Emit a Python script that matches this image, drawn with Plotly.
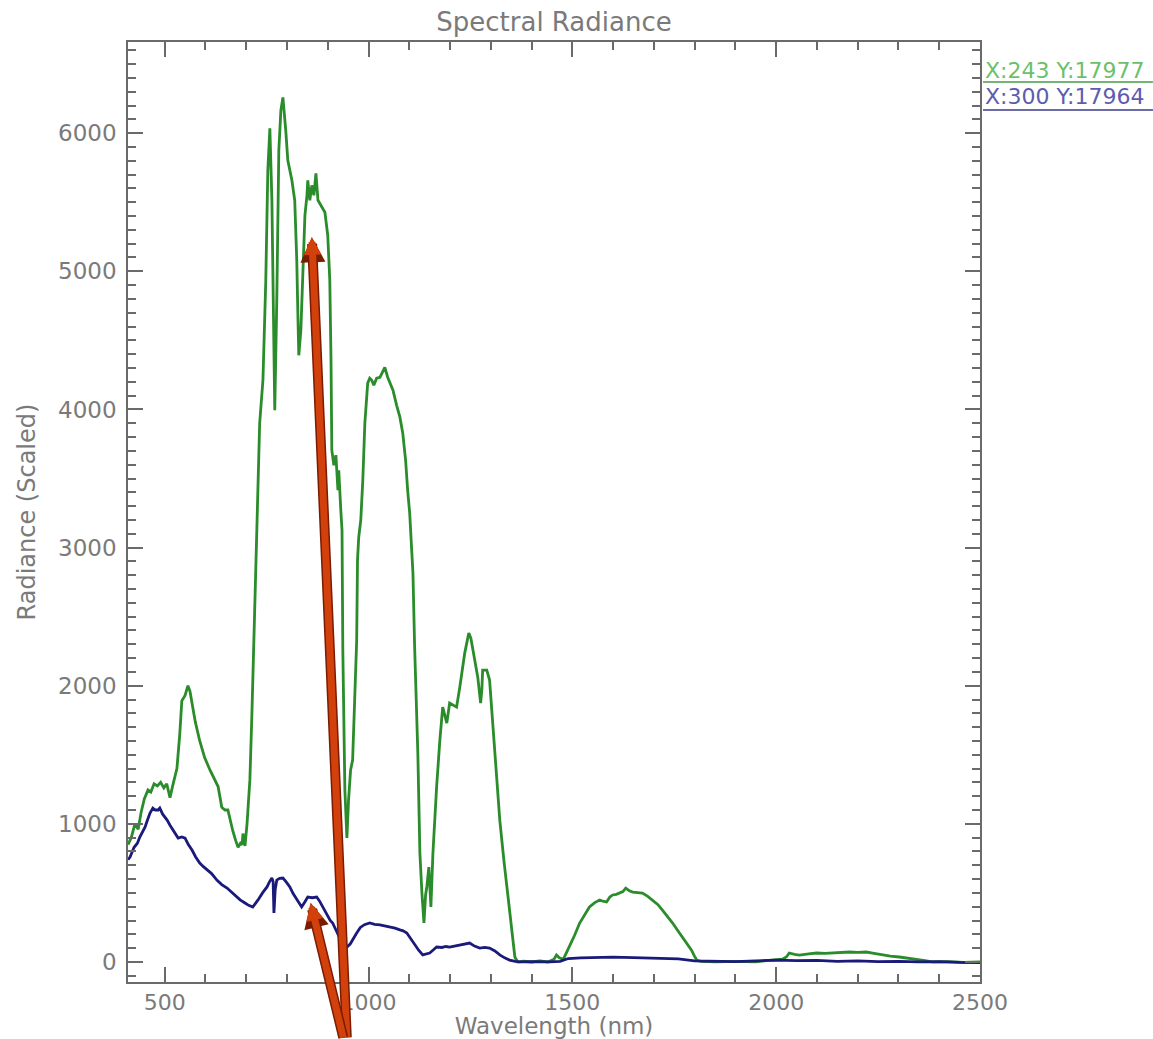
import plotly.graph_objects as go

# ---------------- data ----------------
green_wl = [410, 418, 427, 435, 442, 450, 459, 466, 474, 482, 490, 498, 505, 513, 520, 530, 537, 542, 550, 557,
            562, 567, 575, 586, 598, 611, 620, 631, 640, 648, 655, 662, 667, 674, 680, 686, 690, 692, 695, 697,
            702, 709, 714, 719, 726, 733, 741, 748, 753, 758, 763, 768, 770, 775, 780, 785, 790, 797, 802, 807,
            812, 819, 824, 827, 829, 834, 839, 844, 849, 851, 856, 861, 866, 871, 876, 883, 893, 900, 905, 908,
            910, 915, 920, 925, 927, 932, 935, 937, 942, 947, 951, 956, 961, 966, 971, 973, 976, 981, 986, 991,
            998, 1003, 1008, 1013, 1020, 1028, 1035, 1040, 1047, 1060, 1069, 1077, 1084, 1091, 1096, 1101, 1109, 1113, 1121, 1126,
            1131, 1136, 1140, 1143, 1148, 1153, 1158, 1162, 1167, 1175, 1180, 1182, 1187, 1192, 1199, 1206, 1216, 1224, 1231, 1236,
            1246, 1251, 1255, 1263, 1268, 1275, 1278, 1280, 1290, 1297, 1302, 1310, 1322, 1332, 1339, 1349, 1359, 1366, 1380, 1400,
            1420, 1440, 1455, 1461, 1468, 1478, 1493, 1505, 1518, 1530, 1542, 1555, 1567, 1575, 1584, 1592, 1599, 1608, 1616, 1624,
            1631, 1640, 1648, 1660, 1672, 1685, 1697, 1710, 1721, 1734, 1746, 1758, 1770, 1782, 1792, 1800, 1805, 1815, 1850, 1900,
            1950, 1976, 2000, 2015, 2025, 2032, 2045, 2057, 2080, 2099, 2120, 2138, 2160, 2180, 2200, 2221, 2240, 2261, 2280, 2302,
            2325, 2344, 2365, 2383, 2420, 2460, 2500]
green_rad = [850, 900, 1000, 960, 1080, 1180, 1245, 1230, 1290, 1275, 1300, 1260, 1290, 1190, 1280, 1400, 1650, 1890, 1930, 2000,
             1960, 1880, 1740, 1600, 1480, 1390, 1330, 1270, 1120, 1100, 1100, 1010, 950, 880, 830, 860, 850, 930, 860, 840,
             1000, 1320, 1800, 2330, 3200, 3900, 4211, 4935, 5731, 6035, 5514, 4428, 3994, 4790, 5876, 6165, 6259, 6020, 5803, 5731,
             5659, 5514, 5080, 4646, 4392, 4573, 5080, 5405, 5550, 5659, 5514, 5622, 5550, 5709, 5514, 5478, 5427, 5261, 4935, 4356,
             3705, 3596, 3669, 3415, 3560, 3271, 3126, 2258, 1245, 897, 1172, 1389, 1462, 1896, 2330, 2909, 3075, 3198, 3488, 3900,
             4190, 4226, 4211, 4175, 4226, 4233, 4269, 4305, 4233, 4139, 4030, 3944, 3828, 3632, 3415, 3249, 2815, 2294, 1512, 789,
             499, 282, 485, 543, 687, 398, 789, 1027, 1266, 1606, 1802, 1845, 1787, 1729, 1874, 1860, 1845, 1990, 2149, 2236,
             2381, 2345, 2279, 2149, 2062, 1874, 1968, 2113, 2113, 2041, 1824, 1512, 1027, 738, 543, 268, 36, 0, 5, 0,
             8, 0, 20, 50, 30, 20, 108, 190, 282, 345, 398, 430, 449, 440, 434, 470, 485, 490, 499, 510,
             535, 515, 506, 505, 499, 475, 449, 415, 376, 330, 282, 230, 181, 130, 87, 40, 14, 5, 0, 5,
             0, 10, 15, 20, 36, 65, 55, 50, 58, 65, 62, 65, 70, 72, 70, 72, 62, 50, 42, 36,
             28, 22, 10, 0, 3, -3, 0]

blue_wl = [410, 415, 425, 433, 439, 445, 452, 458, 464, 471, 477, 484, 488, 495, 506, 513, 520, 527, 533, 542,
           550, 558, 567, 576, 586, 595, 604, 615, 628, 640, 653, 662, 672, 685, 697, 706, 716, 722, 729, 740,
           751, 757, 763, 766, 768, 771, 775, 782, 790, 798, 807, 815, 824, 830, 836, 843, 851, 862, 873, 880,
           888, 894, 900, 906, 912, 920, 930, 940, 947, 955, 962, 971, 980, 990, 1003, 1015, 1028, 1040, 1052, 1065,
           1077, 1085, 1094, 1103, 1113, 1123, 1133, 1141, 1150, 1158, 1167, 1180, 1190, 1199, 1212, 1224, 1236, 1248, 1260, 1273,
           1285, 1297, 1310, 1322, 1334, 1346, 1360, 1371, 1400, 1444, 1470, 1490, 1520, 1560, 1600, 1650, 1690, 1720, 1760, 1800,
           1850, 1900, 1950, 2000, 2050, 2100, 2150, 2200, 2250, 2300, 2350, 2400, 2450, 2500]
blue_rad = [740, 760, 830, 860, 904, 940, 977, 1030, 1078, 1114, 1100, 1100, 1114, 1070, 1027, 990, 955, 920, 897, 905,
            897, 850, 810, 760, 716, 690, 666, 640, 593, 560, 535, 510, 485, 450, 427, 410, 398, 420, 449, 500,
            543, 580, 608, 580, 355, 520, 593, 605, 608, 580, 543, 495, 449, 420, 398, 430, 470, 465, 470, 440,
            398, 360, 326, 300, 282, 230, 170, 125, 108, 130, 170, 210, 250, 270, 282, 272, 268, 262, 253, 245,
            232, 225, 210, 170, 123, 85, 51, 55, 65, 85, 108, 105, 112, 108, 115, 123, 130, 137, 115, 101,
            105, 101, 80, 51, 30, 14, 5, 0, 3, 0, 5, 25, 30, 32, 35, 32, 30, 28, 22, 8,
            5, 3, 8, 14, 10, 12, 5, 8, 3, 5, 0, 3, -3, -5]

legend_labels = ["X:243 Y:17977", "X:300 Y:17964"]
title_text = "Spectral Radiance"
x_title = "Wavelength (nm)"
y_title = "Radiance (Scaled)"

# arrow tips (wavelength, radiance) of the overlaid red arrows
arrow_tips = [(861, 5246), (858, 427)]

# ---------------- styling ----------------
GREEN = "#2a8c2a"
BLUE = "#1a1a7a"
AXIS = "#6a6a6a"
TXT = "#7a7a7a"
FONT = "DejaVu Sans"

fig = go.Figure()
fig.add_trace(go.Scatter(x=green_wl, y=green_rad, mode="lines",
                         line=dict(color=GREEN, width=2.8), showlegend=False, hoverinfo="skip"))
fig.add_trace(go.Scatter(x=blue_wl, y=blue_rad, mode="lines",
                         line=dict(color=BLUE, width=2.8), showlegend=False, hoverinfo="skip"))

axis_common = dict(showline=True, linecolor=AXIS, linewidth=1.5, mirror="ticks",
                   ticks="inside", tickcolor=AXIS, tickwidth=1.5, ticklen=15,
                   showgrid=False, zeroline=False, automargin=False)

fig.update_xaxes(range=[410, 2500], tick0=500, dtick=500, ticklabelstandoff=0,
                 tickfont=dict(family=FONT, size=22, color=TXT),
                 minor=dict(dtick=100, tick0=500, ticks="inside", ticklen=8, tickcolor=AXIS, tickwidth=1.5),
                 title=dict(text=x_title, font=dict(family=FONT, size=23, color=TXT), standoff=3),
                 **axis_common)
fig.update_yaxes(range=[-145, 6660], tick0=0, dtick=1000, ticklabelstandoff=5,
                 tickfont=dict(family=FONT, size=23, color=TXT),
                 minor=dict(dtick=100, tick0=0, ticks="inside", ticklen=8, tickcolor=AXIS, tickwidth=1.5),
                 title=dict(text=y_title, font=dict(family=FONT, size=24, color=TXT), standoff=16),
                 **axis_common)

fig.update_layout(
    width=1153, height=1039,
    margin=dict(l=128, r=173, t=42, b=57, autoexpand=False),
    paper_bgcolor="white", plot_bgcolor="white",
    title=dict(text=title_text, x=0.5, xref="paper", xanchor="center", y=1, yref="container",
               yanchor="top", pad=dict(t=13), font=dict(family=FONT, size=26, color=TXT)),
)

# legend-like labels at top right with underlines
leg_colors = ["#6cbf6c", "#5c5cb0"]
line_colors = ["#4a9a4a", "#3a3a8a"]
leg_y = [0.970, 0.9415]
ul_y = [0.9574, 0.9277]
for lab, c, lc, yy, uy in zip(legend_labels, leg_colors, line_colors, leg_y, ul_y):
    fig.add_annotation(text=lab, xref="paper", yref="paper", x=1.0035, y=yy, xanchor="left",
                       yanchor="middle", showarrow=False,
                       font=dict(family=FONT, size=22, color=c))
    fig.add_shape(type="line", xref="paper", yref="paper", x0=1.0035, x1=1.203, y0=uy, y1=uy,
                  line=dict(color=lc, width=1.5))

# overlaid red arrows (dark outline + orange fill)
arrow_offsets = [(35, 808), (33, 142)]
for (tx, ty), (ax, ay) in zip(arrow_tips, arrow_offsets):
    fig.add_annotation(x=tx, y=ty, xref="x", yref="y", ax=ax, ay=ay, axref="pixel", ayref="pixel",
                       showarrow=True, arrowhead=2, arrowsize=0.5, arrowwidth=10,
                       arrowcolor="#7a1c00", text="")
    fig.add_annotation(x=tx, y=ty, xref="x", yref="y", ax=ax, ay=ay, axref="pixel", ayref="pixel",
                       showarrow=True, arrowhead=2, arrowsize=0.5, arrowwidth=7,
                       arrowcolor="#d2400c", text="")

fig.write_html("out.html", config={"displayModeBar": False},
               post_script="document.body.style.margin='0';document.body.style.overflow='hidden';")
